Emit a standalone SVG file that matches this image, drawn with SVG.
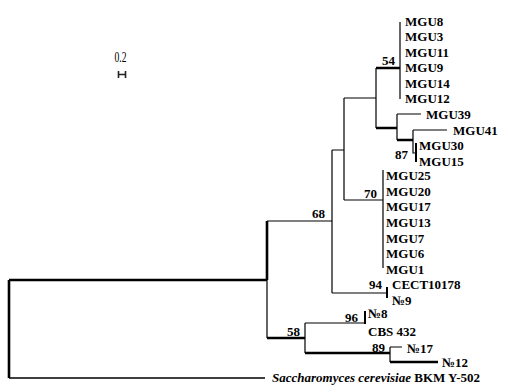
<svg xmlns="http://www.w3.org/2000/svg" width="505" height="388" viewBox="0 0 505 388">
<style>
.t{font-family:"Liberation Serif","Times New Roman",serif;font-size:13px;font-weight:bold;fill:#000}
.b{font-family:"Liberation Serif","Times New Roman",serif;font-size:13px;font-weight:bold;fill:#000}
.s{font-family:"Liberation Serif","Times New Roman",serif;font-size:14px;fill:#000}
.thin{fill:none;stroke:#000;stroke-width:1.2}
.thick{fill:none;stroke:#000;stroke-width:2.6}
</style>
<rect width="505" height="388" fill="#fff"/>
<g id="connectors">
<path class="thin" d="M9,378H265" stroke="#333" style="stroke-width:1.6"/>
<path class="thin" d="M267,280V338M267,221H332M332,150V293M332,150H344M344,98V200M344,98H376M376,68V128M400,22V99M397,114V140M397,114H421M413,130V153H416M413,130H447M344,200H383M383,170V268M332,293H387M305,323V353M305,323H365M390,347V362M390,347H402"/>
<path class="thick" d="M9,280V378M9,280H267M267,221V280M267,338H305M305,353H390M390,362H438M376,68H400M376,128H397M397,140H413"/>
<path class="thin" style="stroke-width:2" d="M416,143V162M387,287V298M365,311V324"/>
</g>
<g id="scale">
<text class="s" x="114.5" y="62" textLength="12" lengthAdjust="spacingAndGlyphs">0.2</text>
<path d="M118.5,71V78M125.5,71V78M118.5,74.5H125.5" fill="none" stroke="#222" stroke-width="1.6"/>
</g>
<g id="bootstrap">
<text class="b" x="382" y="65">54</text>
<text class="b" x="395" y="159">87</text>
<text class="b" x="364" y="198">70</text>
<text class="b" x="312" y="218">68</text>
<text class="b" x="369" y="289">94</text>
<text class="b" x="345" y="322">96</text>
<text class="b" x="287" y="336">58</text>
<text class="b" x="372" y="352">89</text>
</g>
<g id="leaf-MGU8"><text class="t" x="405" y="25.5">MGU8</text></g>
<g id="leaf-MGU3"><text class="t" x="405" y="41">MGU3</text></g>
<g id="leaf-MGU11"><text class="t" x="405" y="56.5">MGU11</text></g>
<g id="leaf-MGU9"><text class="t" x="405" y="72">MGU9</text></g>
<g id="leaf-MGU14"><text class="t" x="405" y="87.5">MGU14</text></g>
<g id="leaf-MGU12"><text class="t" x="405" y="103">MGU12</text></g>
<g id="leaf-MGU39"><text class="t" x="426" y="118.5">MGU39</text></g>
<g id="leaf-MGU41"><text class="t" x="453" y="134.5">MGU41</text></g>
<g id="leaf-MGU30"><text class="t" x="419" y="149.5">MGU30</text></g>
<g id="leaf-MGU15"><text class="t" x="419" y="165.5">MGU15</text></g>
<g id="leaf-MGU25"><text class="t" x="386" y="179.5">MGU25</text></g>
<g id="leaf-MGU20"><text class="t" x="386" y="195.5">MGU20</text></g>
<g id="leaf-MGU17"><text class="t" x="386" y="210.5">MGU17</text></g>
<g id="leaf-MGU13"><text class="t" x="386" y="226.5">MGU13</text></g>
<g id="leaf-MGU7"><text class="t" x="386" y="242.5">MGU7</text></g>
<g id="leaf-MGU6"><text class="t" x="386" y="257.5">MGU6</text></g>
<g id="leaf-MGU1"><text class="t" x="386" y="273.5">MGU1</text></g>
<g id="leaf-CECT10178"><text class="t" x="392" y="289">CECT10178</text></g>
<g id="leaf-N9"><text class="t" x="392" y="305">№9</text></g>
<g id="leaf-N8"><text class="t" x="368" y="318">№8</text></g>
<g id="leaf-CBS432"><text class="t" x="368" y="336">CBS 432</text></g>
<g id="leaf-N17"><text class="t" x="407" y="353">№17</text></g>
<g id="leaf-N12"><text class="t" x="442" y="367">№12</text></g>
<g id="leaf-Scer"><text class="t" x="272" y="382"><tspan font-style="italic">Saccharomyces cerevisiae</tspan> BKM Y-502</text></g>
</svg>
